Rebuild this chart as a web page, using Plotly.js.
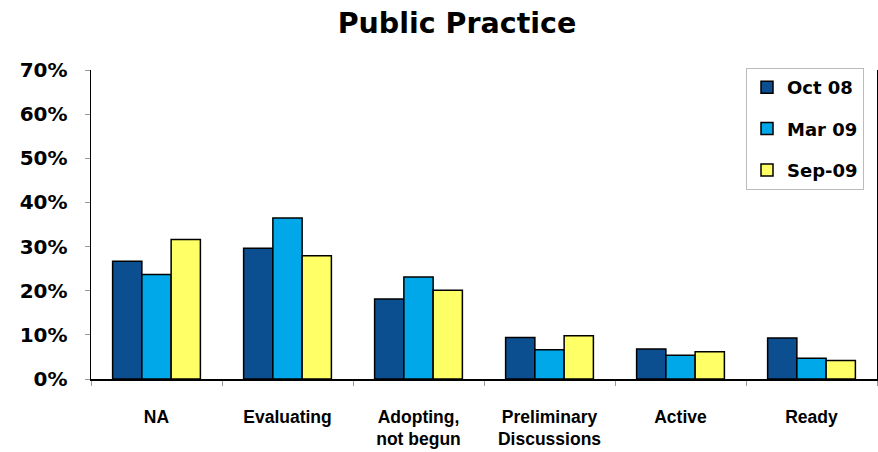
<!DOCTYPE html>
<html>
<head>
<meta charset="utf-8">
<script src="https://cdn.plot.ly/plotly-3.0.1.min.js"></script>
<style>html,body{margin:0;padding:0;background:#fff;}#chart{width:878px;height:452px;}</style>
</head>
<body>
<div id="chart"></div>
<script>
const categories = ["NA", "Evaluating", "Adopting,<br>not begun", "Preliminary<br>Discussions", "Active", "Ready"];
const seriesNames = ["Oct 08", "Mar 09", "Sep-09"];
const oct08 = [0.267, 0.296, 0.181, 0.094, 0.068, 0.093];
const mar09 = [0.237, 0.365, 0.231, 0.066, 0.054, 0.047];
const sep09 = [0.316, 0.279, 0.201, 0.098, 0.062, 0.042];
const colors = ["#0C4F91", "#00A8E9", "#FFFF66"];
const yTickVals = [0, 0.1, 0.2, 0.3, 0.4, 0.5, 0.6, 0.7];

const values = [oct08, mar09, sep09];
const traces = values.map((v, i) => ({
  type: "bar",
  name: seriesNames[i],
  x: categories,
  y: v,
  legendgroup: "g" + i,
  marker: {color: colors[i], line: {color: "#000", width: 1.5}},
  hoverinfo: "x+y+name"
}));

const layout = {
  width: 878, height: 452,
  margin: {l: 91, r: 1, t: 70, b: 73},
  paper_bgcolor: "#fff",
  plot_bgcolor: "#fff",
  barmode: "group",
  bargap: 0.33,
  bargroupgap: 0,
  title: {
    text: "Public Practice",
    font: {family: "DejaVu Sans, Verdana, sans-serif", size: 28.5, color: "#000", weight: "bold"},
    x: 457/878, xref: "container", xanchor: "center",
    y: 1 - 23/452, yref: "container", yanchor: "middle"
  },
  xaxis: {
    type: "category",
    showline: true, linecolor: "#000", linewidth: 1.5,
    mirror: false,
    ticks: "outside", tickson: "boundaries", ticklen: 5, tickcolor: "#999", tickwidth: 1,
    tickfont: {family: "Liberation Sans, Arial, sans-serif", size: 17.5, color: "#000", weight: "bold"},
    ticklabelstandoff: 21,
    showgrid: false, zeroline: false
  },
  yaxis: {
    range: [0, 0.7],
    tickvals: yTickVals,
    tickformat: ".0%",
    showline: true, linecolor: "#000", linewidth: 1.5, mirror: true,
    ticks: "outside", ticklen: 5, tickcolor: "#999", tickwidth: 1,
    tickfont: {family: "DejaVu Sans, Verdana, sans-serif", size: 20, color: "#000", weight: "bold"},
    ticklabelstandoff: 13,
    showgrid: false, zeroline: false
  },
  legend: {
    x: (746 - 91) / 786, xanchor: "left",
    y: (379 - 68) / 309, yanchor: "top",
    bgcolor: "#fff", bordercolor: "#bbb", borderwidth: 1,
    font: {family: "DejaVu Sans, Verdana, sans-serif", size: 18, color: "#000", weight: "bold"},
    traceorder: "grouped", tracegroupgap: 15,
    itemwidth: 30
  },
  showlegend: true
};

Plotly.newPlot("chart", traces, layout, {displayModeBar: false, staticPlot: true});
</script>
</body>
</html>
